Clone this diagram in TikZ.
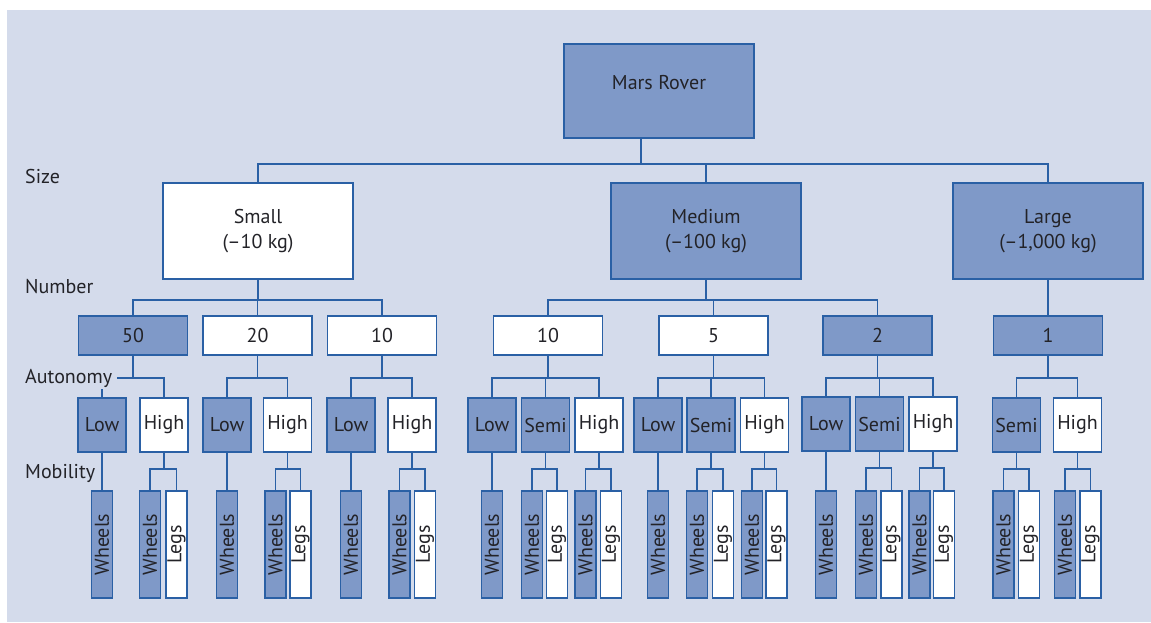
\documentclass[tikz,border=0pt]{standalone}
\usepackage{fontspec}
\setmainfont{PT Sans}
\usepackage{tikz}
\usetikzlibrary{positioning,calc}
\usepackage{xcolor}
\definecolor{panel}{RGB}{212,219,235}
\definecolor{roverfill}{RGB}{127,153,200}
\definecolor{roverline}{RGB}{42,96,165}
\definecolor{rovertext}{RGB}{35,35,40}

\begin{document}
\begin{tikzpicture}[
  x=1pt, y=-1pt,
  font=\fontsize{20}{25}\selectfont,
  bluebox/.style={draw=roverline, fill=roverfill, line width=1.5pt, inner sep=0pt, text=rovertext, align=center},
  whitebox/.style={bluebox, fill=white},
  sizebox/.style={minimum width=190pt, minimum height=96pt},
  numbox/.style={minimum width=109pt, minimum height=39pt},
  autobox/.style={minimum width=48pt, minimum height=54pt},
  leafbox/.style={minimum width=21pt, minimum height=107pt},
  wire/.style={draw=roverline, line width=1.6pt},
  tier/.style={anchor=west, fill=panel, inner xsep=5pt, inner ysep=1.5pt, text=rovertext}
]
  \useasboundingbox (0,0) rectangle (1151,622);
  \fill[white] (0,0) rectangle (1151,622);
  \fill[panel] (7,10) rectangle (1151,622);

  % root and size
  \node[bluebox, minimum width=190pt, minimum height=94pt, text height=14pt, text depth=17pt] (rover) at (659,91) {Mars Rover};
  \node[whitebox, sizebox] (small) at (258,231) {Small\\(--10 kg)};
  \node[bluebox, sizebox] (medium) at (706,231) {Medium\\(--100 kg)};
  \node[bluebox, sizebox] (large) at (1048,231) {Large\\(--1,000 kg)};

  % number
  \node[bluebox, numbox] (n50) at (133,335.5) {50};
  \node[whitebox, numbox] (n20) at (257.5,335.5) {20};
  \node[whitebox, numbox] (n10) at (382,335.5) {10};
  \node[whitebox, numbox] (m10) at (548,335.5) {10};
  \node[whitebox, numbox] (m5) at (713.5,335.5) {5};
  \node[bluebox, numbox] (m2) at (877.5,335.5) {2};
  \node[bluebox, numbox] (l1) at (1048,335.5) {1};

  % autonomy
  \node[bluebox, autobox] (n50lo) at (102,425) {Low};
  \node[whitebox, autobox] (n50hi) at (164,425) {High};
  \node[bluebox, autobox] (n20lo) at (227,425) {Low};
  \node[whitebox, autobox] (n20hi) at (287.5,425) {High};
  \node[bluebox, autobox] (n10lo) at (351,425) {Low};
  \node[whitebox, autobox] (n10hi) at (412,425) {High};
  \node[bluebox, autobox] (m10lo) at (492,425) {Low};
  \node[bluebox, autobox] (m10se) at (545.5,425) {Semi};
  \node[whitebox, autobox] (m10hi) at (599,425) {High};
  \node[bluebox, autobox] (m5lo) at (658,425) {Low};
  \node[bluebox, autobox] (m5se) at (711,425) {Semi};
  \node[whitebox, autobox] (m5hi) at (764.5,425) {High};
  \node[bluebox, autobox] (m2lo) at (826,424) {Low};
  \node[bluebox, autobox] (m2se) at (879.5,424) {Semi};
  \node[whitebox, autobox] (m2hi) at (933,424) {High};
  \node[bluebox, autobox] (l1se) at (1016.5,425) {Semi};
  \node[whitebox, autobox] (l1hi) at (1077.5,425) {High};

  % mobility
  \node[bluebox, leafbox] (n50loW) at (102,544.5) {\rotatebox{90}{Wheels}};
  \node[bluebox, leafbox] (n50hiW) at (150,544.5) {\rotatebox{90}{Wheels}};
  \node[whitebox, leafbox] (n50hiL) at (176.5,544.5) {\rotatebox{90}{Legs}};
  \node[bluebox, leafbox] (n20loW) at (227,544.5) {\rotatebox{90}{Wheels}};
  \node[bluebox, leafbox] (n20hiW) at (275.5,544.5) {\rotatebox{90}{Wheels}};
  \node[whitebox, leafbox] (n20hiL) at (300.5,544.5) {\rotatebox{90}{Legs}};
  \node[bluebox, leafbox] (n10loW) at (351,544.5) {\rotatebox{90}{Wheels}};
  \node[bluebox, leafbox] (n10hiW) at (399.5,544.5) {\rotatebox{90}{Wheels}};
  \node[whitebox, leafbox] (n10hiL) at (425,544.5) {\rotatebox{90}{Legs}};
  \node[bluebox, leafbox] (m10loW) at (492,544.5) {\rotatebox{90}{Wheels}};
  \node[bluebox, leafbox] (m10seW) at (532,544.5) {\rotatebox{90}{Wheels}};
  \node[whitebox, leafbox] (m10seL) at (557,544.5) {\rotatebox{90}{Legs}};
  \node[bluebox, leafbox] (m10hiW) at (585.5,544.5) {\rotatebox{90}{Wheels}};
  \node[whitebox, leafbox] (m10hiL) at (611,544.5) {\rotatebox{90}{Legs}};
  \node[bluebox, leafbox] (m5loW) at (658,544.5) {\rotatebox{90}{Wheels}};
  \node[bluebox, leafbox] (m5seW) at (697,544.5) {\rotatebox{90}{Wheels}};
  \node[whitebox, leafbox] (m5seL) at (723,544.5) {\rotatebox{90}{Legs}};
  \node[bluebox, leafbox] (m5hiW) at (752,544.5) {\rotatebox{90}{Wheels}};
  \node[whitebox, leafbox] (m5hiL) at (776.5,544.5) {\rotatebox{90}{Legs}};
  \node[bluebox, leafbox] (m2loW) at (826,544.5) {\rotatebox{90}{Wheels}};
  \node[bluebox, leafbox] (m2seW) at (866,544.5) {\rotatebox{90}{Wheels}};
  \node[whitebox, leafbox] (m2seL) at (891.5,544.5) {\rotatebox{90}{Legs}};
  \node[bluebox, leafbox] (m2hiW) at (919.5,544.5) {\rotatebox{90}{Wheels}};
  \node[whitebox, leafbox] (m2hiL) at (944,544.5) {\rotatebox{90}{Legs}};
  \node[bluebox, leafbox] (l1seW) at (1003.5,544.5) {\rotatebox{90}{Wheels}};
  \node[whitebox, leafbox] (l1seL) at (1029,544.5) {\rotatebox{90}{Legs}};
  \node[bluebox, leafbox] (l1hiW) at (1065,544.5) {\rotatebox{90}{Wheels}};
  \node[whitebox, leafbox] (l1hiL) at (1090.5,544.5) {\rotatebox{90}{Legs}};

  % connectors
  \foreach \c in {small,medium,large}
    \draw[wire] ([xshift=-18pt]rover.south) -- ++(0,25) -| (\c.north);
  \foreach \p/\c in {small/n50,small/n20,small/n10,medium/m10,medium/m5,medium/m2,large/l1}
    \draw[wire] (\p.south) -- ++(0,20) -| (\c.north);
  \foreach \p/\c in {n50/lo,n50/hi,n20/lo,n20/hi,n10/lo,n10/hi,m10/lo,m10/se,m10/hi,
                     m5/lo,m5/se,m5/hi,m2/lo,m2/se,m2/hi,l1/se,l1/hi}
    \draw[wire] (\p.south) -- ++(0,22) -| (\p\c.north);
  \foreach \p in {n50lo,n20lo,n10lo,m10lo,m5lo,m2lo}
    \draw[wire] (\p.south) -- (\p W.north);
  \foreach \p in {n50hi,n20hi,n10hi,m10se,m10hi,m5se,m5hi,m2se,m2hi,l1se,l1hi}
    \foreach \c in {W,L}
      \draw[wire] (\p.south) -- ++(0,16) -| (\p\c.north);

  % level names
  \node[tier] (sizelbl) at (20,176) {Size};
  \node[tier] (numlbl) at (20,287) {Number};
  \node[tier] (autlbl) at (20,378) {Autonomy};
  \node[tier] (moblbl) at (20,473) {Mobility};
\end{tikzpicture}
\end{document}
